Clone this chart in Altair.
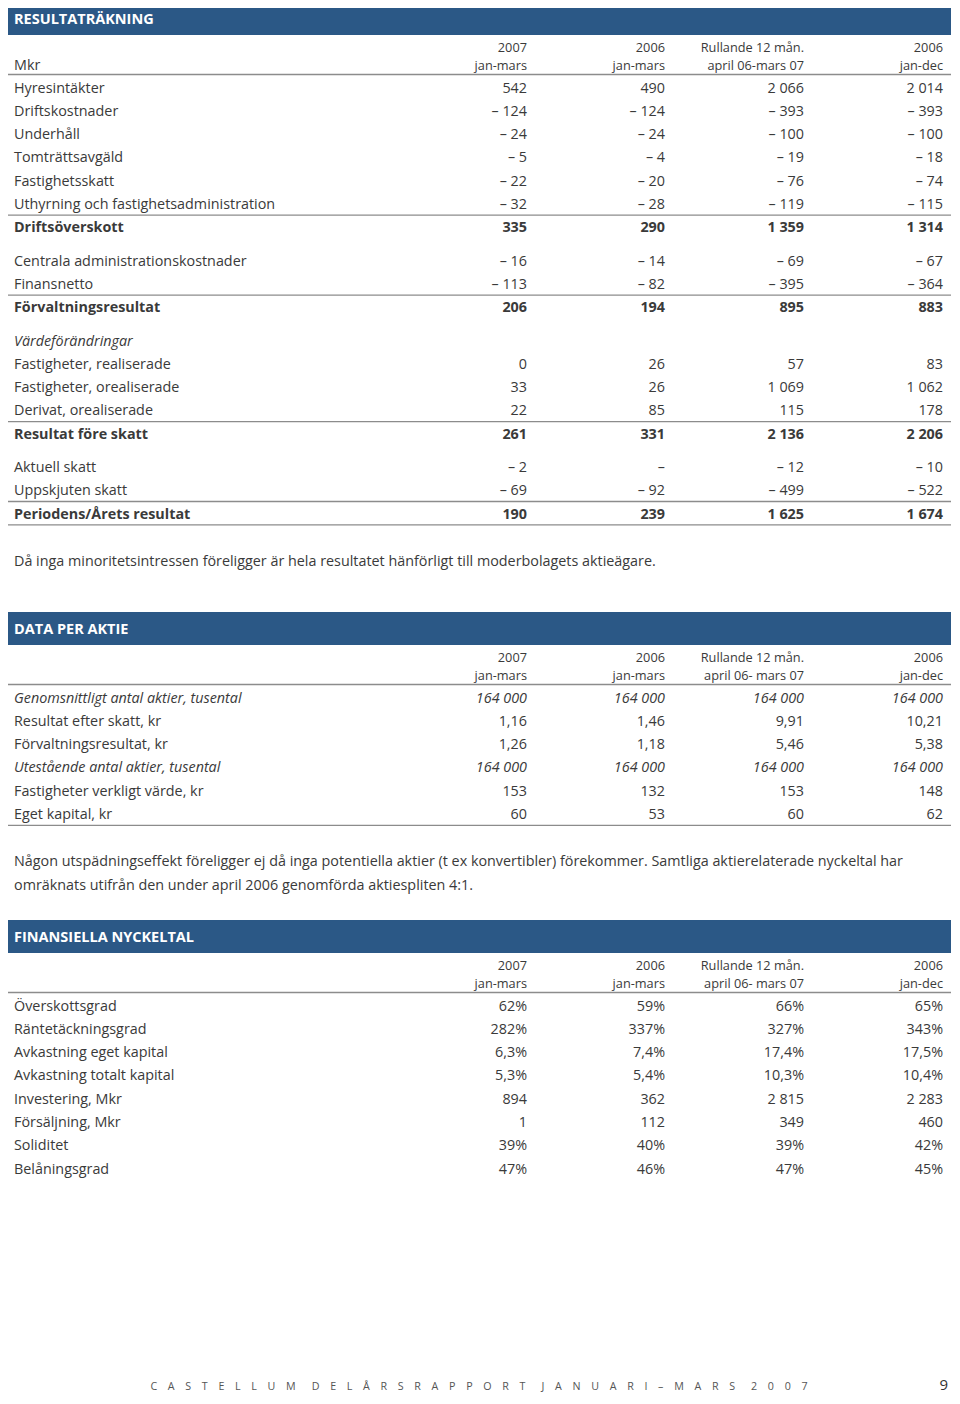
import altair as alt
import pandas as pd

# ---------------- data ----------------
col_head_1 = ["2007", "2006", "Rullande 12 mån.", "2006"]
col_head_2_res = ["jan-mars", "jan-mars", "april 06-mars 07", "jan-dec"]
col_head_2 = ["jan-mars", "jan-mars", "april 06- mars 07", "jan-dec"]

res_title = "RESULTATRÄKNING"
res_labels = ["Hyresintäkter", "Driftskostnader", "Underhåll", "Tomträttsavgäld",
              "Fastighetsskatt", "Uthyrning och fastighetsadministration", "Driftsöverskott",
              "Centrala administrationskostnader", "Finansnetto", "Förvaltningsresultat",
              "Värdeförändringar", "Fastigheter, realiserade", "Fastigheter, orealiserade",
              "Derivat, orealiserade", "Resultat före skatt", "Aktuell skatt",
              "Uppskjuten skatt", "Periodens/Årets resultat"]
res_kind = ["n", "n", "n", "n", "n", "n", "b", "n", "n", "b", "h", "n", "n", "n", "b", "n", "n", "b"]
res_2007 = [542, -124, -24, -5, -22, -32, 335, -16, -113, 206, None, 0, 33, 22, 261, -2, -69, 190]
res_2006q = [490, -124, -24, -4, -20, -28, 290, -14, -82, 194, None, 26, 26, 85, 331, None, -92, 239]
res_roll = [2066, -393, -100, -19, -76, -119, 1359, -69, -395, 895, None, 57, 1069, 115, 2136, -12, -499, 1625]
res_2006 = [2014, -393, -100, -18, -74, -115, 1314, -67, -364, 883, None, 83, 1062, 178, 2206, -10, -522, 1674]
res_note = "Då inga minoritetsintressen föreligger är hela resultatet hänförligt till moderbolagets aktieägare."

akt_title = "DATA PER AKTIE"
akt_labels = ["Genomsnittligt antal aktier, tusental", "Resultat efter skatt, kr",
              "Förvaltningsresultat, kr", "Utestående antal aktier, tusental",
              "Fastigheter verkligt värde, kr", "Eget kapital, kr"]
akt_kind = ["i", "n", "n", "i", "n", "n"]
akt_dec = [0, 2, 2, 0, 0, 0]
akt_2007 = [164000, 1.16, 1.26, 164000, 153, 60]
akt_2006q = [164000, 1.46, 1.18, 164000, 132, 53]
akt_roll = [164000, 9.91, 5.46, 164000, 153, 60]
akt_2006 = [164000, 10.21, 5.38, 164000, 148, 62]
akt_note = ["Någon utspädningseffekt föreligger ej då inga potentiella aktier (t ex konvertibler) förekommer. Samtliga aktierelaterade nyckeltal har",
            "omräknats utifrån den under april 2006 genomförda aktiespliten 4:1."]

nyk_title = "FINANSIELLA NYCKELTAL"
nyk_labels = ["Överskottsgrad", "Räntetäckningsgrad", "Avkastning eget kapital",
              "Avkastning totalt kapital", "Investering, Mkr", "Försäljning, Mkr",
              "Soliditet", "Belåningsgrad"]
nyk_fmt = ["p0", "p0", "p1", "p1", "i", "i", "p0", "p0"]
nyk_2007 = [62, 282, 6.3, 5.3, 894, 1, 39, 47]
nyk_2006q = [59, 337, 7.4, 5.4, 362, 112, 40, 46]
nyk_roll = [66, 327, 17.4, 10.3, 2815, 349, 39, 47]
nyk_2006 = [65, 343, 17.5, 10.4, 2283, 460, 42, 45]

footer = "CASTELLUM DELÅRSRAPPORT JANUARI–MARS 2007"
page_no = "9"

# ---------------- formatting ----------------
def thousands(s):
    out = ""
    while len(s) > 3:
        out = " " + s[-3:] + out
        s = s[:-3]
    return s + out

def fmt_int(v):
    if v is None:
        return "–"
    s = thousands(str(abs(int(v))))
    return ("– " + s) if v < 0 else s

def fmt_dec(v, d):
    if d == 0:
        return thousands(str(int(v)))
    ip, fp = (f"{v:.{d}f}").split(".")
    return thousands(ip) + "," + fp

def fmt_nyk(v, f):
    if f == "p0":
        return f"{int(v)}%"
    if f == "p1":
        return fmt_dec(v, 1) + "%"
    return thousands(str(int(v)))

# ---------------- layout ----------------
W, H = 944, 1388
M = 8
LX = 14 - M                       # label left edge
CX = [527 - M, 665 - M, 804 - M, 943 - M]   # value right edges
BX0, BX1 = 6 - M, 951 - M
STEP = 23.3
GAP = 10.0
DY = 1.5                          # text optical offset

bars, titles, rules = [], [], []
lab = {"n": [], "b": [], "i": []}
val = {"n": [], "b": [], "i": []}
heads, notes = [], []

def section(title, top, labels, kinds, cols, head2, mkr=False, bottom_rule=True, note_lines=()):
    bars.append({"x": BX0, "x2": BX1, "y": top - M, "y2": top + 33 - M})
    titles.append({"x": LX, "y": top + 16.5 - M + DY, "t": title})
    h1 = top + 44 - M
    for i in range(4):
        heads.append({"x": CX[i], "y": h1 + DY, "t": col_head_1[i]})
        heads.append({"x": CX[i], "y": h1 + 18 + DY, "t": head2[i]})
    if mkr:
        lab["n"].append({"x": LX, "y": h1 + 18 + DY, "t": "Mkr"})
    rules.append({"x": BX0, "x2": BX1, "y": h1 + 28.5})
    y = h1 + 41
    last = y
    for r, (lb, k) in enumerate(zip(labels, kinds)):
        kk = "i" if k == "h" else k
        if k == "b":
            rules.append({"x": BX0, "x2": BX1, "y": y - 11.6})
        lab[kk].append({"x": LX, "y": y + DY, "t": lb})
        if k != "h":
            for c in range(4):
                val[kk].append({"x": CX[c], "y": y + DY, "t": cols[c][r]})
        last = y
        y += STEP
        if k == "b" and r < len(labels) - 1:
            y += GAP
    if bottom_rule:
        rules.append({"x": BX0, "x2": BX1, "y": last + 11.8})
    ny = last + 47 + DY
    for ln in note_lines:
        notes.append({"x": LX, "y": ny, "t": ln})
        ny += 24

res_cols = [[fmt_int(v) for v in s] for s in (res_2007, res_2006q, res_roll, res_2006)]
section(res_title, 2, res_labels, res_kind, res_cols, col_head_2_res, mkr=True,
        note_lines=[res_note])

akt_cols = [[fmt_dec(v, d) for v, d in zip(s, akt_dec)] for s in (akt_2007, akt_2006q, akt_roll, akt_2006)]
section(akt_title, 612, akt_labels, akt_kind, akt_cols, col_head_2, note_lines=akt_note)

nyk_cols = [[fmt_nyk(v, f) for v, f in zip(s, nyk_fmt)] for s in (nyk_2007, nyk_2006q, nyk_roll, nyk_2006)]
section(nyk_title, 920, nyk_labels, ["n"] * len(nyk_labels), nyk_cols, col_head_2, bottom_rule=False)

EM, EN = "\u2003", "\u2002"
spaced = (EM + EN).join(EM.join(list(w)) for w in footer.split(" "))

# ---------------- chart ----------------
FONT = "Open Sans"
TXT = "#3a3a3a"
FS = 14.35
X = alt.X("x:Q", scale=alt.Scale(domain=[0, W], range=[0, W], nice=False, zero=False), axis=None)
Y = alt.Y("y:Q", scale=alt.Scale(domain=[0, H], range=[0, H], nice=False, zero=False), axis=None)

def tl(rows, **kw):
    base = dict(font=FONT, fontSize=FS, color=TXT, baseline="middle")
    base.update(kw)
    return alt.Chart(pd.DataFrame(rows)).mark_text(**base).encode(x=X, y=Y, text="t:N")

layers = [
    alt.Chart(pd.DataFrame(bars)).mark_rect(color="#2b5886").encode(x=X, x2="x2:Q", y=Y, y2="y2:Q"),
    alt.Chart(pd.DataFrame(rules)).mark_rule(color="#8c8c8c", strokeWidth=1.3).encode(x=X, x2="x2:Q", y=Y),
    tl(titles, color="white", fontWeight="bold", align="left", fontSize=14.5),
    tl(heads, align="right", fontSize=12.75),
    tl(lab["n"], align="left"),
    tl(lab["b"], align="left", fontWeight="bold"),
    tl(lab["i"], align="left", fontStyle="italic"),
    tl(val["n"], align="right"),
    tl(val["b"], align="right", fontWeight="bold"),
    tl(val["i"], align="right", fontStyle="italic"),
    tl(notes, align="left"),
    tl([{"x": 479 - M, "y": 1390 - M, "t": spaced}], align="center", baseline="alphabetic",
       fontSize=10.7, color="#555555"),
    tl([{"x": W - 4, "y": 1390 - M, "t": page_no}], align="right", baseline="alphabetic",
       fontSize=15, color="#333333"),
]

chart = alt.layer(*layers).properties(
    width=W, height=H, padding=0, autosize=alt.AutoSizeParams(type="none")
).configure_view(stroke=None)

chart.save("out.html", embed_options={"renderer": "svg", "actions": False})
